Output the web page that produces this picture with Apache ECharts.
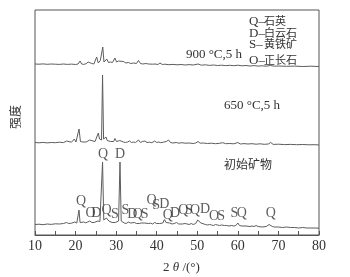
<!DOCTYPE html>
<html>
<head>
<meta charset="utf-8">
<script src="https://cdn.jsdelivr.net/npm/echarts@6/dist/echarts.min.js"></script>
<style>
  html, body { margin: 0; padding: 0; background: #fff; }
  #area { width: 350px; height: 277px; }
</style>
</head>
<body>
<div id="area"></div>
<script>
// XRD patterns, [2theta, intensity]
var initialPattern = [
  [10,10.5],[11,10.8],[12,10.3],[13,11],[14,10.6],[15,11.2],[16,11],[17,11.5],[17.8,12.5],[18.3,11.5],
  [19,11.8],[19.8,13],[20.3,12],[20.6,12.5],[20.85,25],[21.1,12.5],[21.5,12],[22,13],[22.5,12.2],[23,13],
  [23.5,14],[24,12.5],[24.3,13.5],[24.6,12.5],[25,13],[25.5,14],[26,13.5],[26.3,14],[26.65,73],[26.95,15],
  [27.3,14],[27.6,17],[27.9,15],[28.2,14],[28.6,13],[29,12.5],[29.4,13.5],[29.8,12.5],[30.2,13],[30.6,14],
  [30.95,73],[31.25,14],[31.6,12.5],[32,12],[32.5,11.5],[33,13],[33.3,11.5],[33.6,12],[34,11.5],[34.5,12.5],
  [35,11.5],[35.3,12.5],[35.7,11.5],[36.2,12],[36.6,13.5],[37,12],[37.4,12.5],[38,11.5],[38.5,11.8],[39,11],
  [39.5,12.5],[40,11.5],[40.3,12.5],[40.7,11.5],[41.1,13],[41.5,12],[41.9,15.5],[42.3,12.5],[42.6,11.5],[43.2,12],
  [43.8,11],[44.3,11.5],[44.9,12.5],[45.4,11],[45.8,12],[46.3,11],[47,11.5],[47.5,11],[48,10.5],[48.5,11.5],
  [49,10.5],[49.6,11.5],[50.1,15],[50.5,14],[50.9,12],[51.3,10.5],[52,10.5],[52.5,10],[53,10.5],[53.5,10],
  [54,9.5],[54.5,10.5],[55,10],[55.5,9.5],[56,10],[56.3,11],[56.7,9.5],[57.2,9.5],[57.8,9],[58.5,9.5],
  [59,9],[59.5,9.5],[60,12],[60.4,9.5],[61,9],[62,9],[63,8.5],[63.5,9],[64,8.5],[64.5,9.5],
  [65,8.5],[66,8],[67,8.5],[67.7,10.5],[68.1,10],[68.5,8.5],[69,8],[70,8],[71,7.5],[72,8],
  [73,7.5],[74,7.5],[75,7],[76,7.5],[77,7],[78,7],[79,7],[80,6.8]
];
var pattern650 = [
  [10,92.5],[11,92.2],[12,92.6],[13,92.1],[14,92.5],[15,92.3],[16,92.8],[17,92.4],[17.8,94],[18.2,92.5],
  [19,92.8],[19.7,96],[20.1,93],[20.5,93.5],[20.85,106],[21.2,93.5],[21.8,93],[22.2,94.5],[22.6,93],[23,93.5],
  [23.5,95],[23.9,93.5],[24.3,94],[24.8,93.5],[25.2,95],[25.6,102],[25.9,96],[26.2,97.5],[26.4,95],[26.65,160],
  [26.9,96],[27.2,95],[27.5,98],[27.8,94.5],[28.2,94],[28.6,93.5],[29,94],[29.4,93.5],[29.7,96.5],[30.1,93.5],
  [30.5,93],[30.9,94.5],[31.3,92.5],[31.8,93],[32.3,92.5],[32.8,93],[33.3,94],[33.8,92.5],[34.3,93],[34.8,92.5],
  [35.5,95],[36,92.5],[36.5,93.5],[37.1,94],[37.6,92.5],[38.2,92.8],[38.8,92.3],[39.5,94],[40,92.5],[40.5,93],
  [41,92.3],[41.6,92.8],[42.4,93.5],[42.9,95],[43.4,92.5],[44,92],[44.8,92.5],[45.5,91.8],[46.2,92.3],[47,91.8],
  [48,92],[49,91.5],[49.6,92],[50.2,93.5],[50.7,91.8],[51.5,92],[52.5,91.5],[53.5,91.8],[54.5,91.3],[55.5,91.7],
  [56.3,92.3],[57,91.3],[58,91.5],[59,91.2],[60,92.5],[60.6,91],[61.5,91.4],[62.5,91],[63.5,91.3],[64.5,90.8],
  [65.5,91.2],[66.5,90.7],[67.5,91],[68.1,92.5],[68.7,90.6],[70,90.8],[71.5,90.4],[73,90.6],[74.5,90.3],[76,90.5],
  [77.5,90.2],[79,90.3],[80,90]
];
var pattern900 = [
  [10,171],[11,170.8],[12,171.1],[13,170.7],[14,171],[15,170.8],[16,170.6],[17,171],[18,170.6],[19,170.9],
  [20,170.5],[20.6,171],[21.1,174],[21.5,171],[22,170.6],[22.6,171.3],[23.1,173],[23.5,171],[24,171.5],[24.5,171],
  [25.2,178],[25.6,172],[26.1,174.5],[26.4,172.5],[26.7,188],[27,173],[27.3,172.5],[27.7,176],[28.1,172.5],[28.6,173],
  [29.1,172.5],[29.7,177],[30.1,173],[30.6,174],[31,172.5],[31.8,173.5],[32.4,172],[33,172.5],[33.6,171.5],[34.3,172],
  [35,171.5],[35.5,174.5],[36,171.5],[36.6,171],[37.3,171.5],[38,171],[38.4,172],[39,170.8],[39.6,171],[40.3,170.5],
  [40.8,172],[41.4,170.5],[42,170.8],[43,170.3],[44,170.6],[45,170.2],[46,170.5],[47,170],[48,170.4],[49,170],
  [50.2,171],[51,169.8],[52,170.2],[53,169.6],[54,170],[55,169.5],[56,169.8],[57,169.4],[58,169.7],[59,169.3],
  [60,169.8],[61,169.2],[62,169.5],[63,169],[64,169.4],[65,168.9],[66,169.2],[67,168.8],[68,169.5],[69,168.8],
  [70,169],[72,168.7],[74,168.9],[76,168.5],[78,168.8],[80,168.5]
];
// phase letters above the initial pattern
var peakLabelText = ['Q','D','Q','O','D','Q','S','S','D','Q','S','Q','S','D','Q','D','Q','S','Q','D','O','S','S','Q','Q'];
var peakLabelX = [26.76,30.95,21.34,23.7,25.1,27.65,29.7,32.3,34.0,35.35,37.05,38.7,39.85,41.85,42.75,44.5,46.55,47.95,49.45,51.9,54.15,55.9,59.15,60.95,68.1];
var peakLabelY = [81,81,34,22,22,25,21,25,21,21,21,35,30,31,19.5,22,25,25,25,26,18.5,18.5,21.5,21.5,21.5];

var phaseCodes = ['Q', 'D', 'S', 'O'];
var phaseNames = ['石英', '白云石', '黄铁矿', '正长石'];
var phaseRowY = [21.5, 33.3, 45, 60.5];

var xTicks = [10,20,30,40,50,60,70,80];

var serif = '"Liberation Serif", "Noto Sans CJK SC", serif';
var lineColor = '#5c5c5c';

var peakLabels = peakLabelText.map(function (t, i) {
  return [peakLabelX[i], peakLabelY[i], t];
});

function curve(data) {
  return {
    type: 'line',
    data: data,
    showSymbol: false,
    silent: true,
    lineStyle: { color: lineColor, width: 1 }
  };
}

var legendRows = [];
phaseCodes.forEach(function (c, i) {
  legendRows.push({
    type: 'text', x: 249, y: phaseRowY[i],
    style: { text: c + '–', fill: '#333', font: '13px ' + serif, textVerticalAlign: 'middle' }
  });
  legendRows.push({
    type: 'text', x: 264, y: phaseRowY[i] + 0.5,
    style: { text: phaseNames[i], fill: '#333', font: '11px ' + serif, textVerticalAlign: 'middle' }
  });
});

var myChart = echarts.init(document.getElementById('area'));
var option = {
  animation: false,
  grid: {
    left: 35, right: 31, top: 10, bottom: 42,
    show: true, borderColor: '#555', borderWidth: 1
  },
  xAxis: {
    type: 'value',
    min: xTicks[0],
    max: xTicks[xTicks.length - 1],
    interval: 10,
    axisLine: { lineStyle: { color: '#555' } },
    axisTick: { inside: true, length: 4, lineStyle: { color: '#555' } },
    minorTick: { show: true, splitNumber: 2, length: 4, lineStyle: { color: '#555' } },
    splitLine: { show: false },
    axisLabel: { color: '#333', fontSize: 14, fontFamily: serif, margin: 4 }
  },
  yAxis: {
    type: 'value',
    min: 0,
    max: 225,
    axisLine: { show: false },
    axisTick: { show: false },
    axisLabel: { show: false },
    splitLine: { show: false }
  },
  series: [
    curve(initialPattern),
    curve(pattern650),
    curve(pattern900),
    {
      type: 'scatter',
      data: peakLabels,
      symbolSize: 0,
      silent: true,
      label: {
        show: true,
        position: 'inside',
        formatter: function (p) { return p.data[2]; },
        color: '#333',
        fontSize: 14,
        fontFamily: serif
      }
    }
  ],
  graphic: [
    { type: 'text', x: 17, y: 117, rotation: Math.PI / 2,
      style: { text: '强度', fill: '#333', font: '12px ' + serif, textAlign: 'center', textVerticalAlign: 'middle' } },
    { type: 'text', x: 163, y: 268,
      style: {
        text: '{a|2 }{b|θ}{a| /(°)}', textVerticalAlign: 'middle',
        rich: {
          a: { fontSize: 13, fontFamily: serif, fill: '#333' },
          b: { fontSize: 13, fontFamily: serif, fontStyle: 'italic', fill: '#333' }
        }
      } },
    { type: 'text', x: 242, y: 55,
      style: { text: '900 °C,5 h', fill: '#333', font: '13px ' + serif, textAlign: 'right', textVerticalAlign: 'middle' } },
    { type: 'text', x: 224, y: 106,
      style: { text: '650 °C,5 h', fill: '#333', font: '13px ' + serif, textAlign: 'left', textVerticalAlign: 'middle' } },
    { type: 'text', x: 224, y: 166,
      style: { text: '初始矿物', fill: '#333', font: '12px ' + serif, textAlign: 'left', textVerticalAlign: 'middle' } }
  ].concat(legendRows)
};
myChart.setOption(option);
window.addEventListener('resize', function () {
  myChart.resize();
}, false);
</script>
</body>
</html>
